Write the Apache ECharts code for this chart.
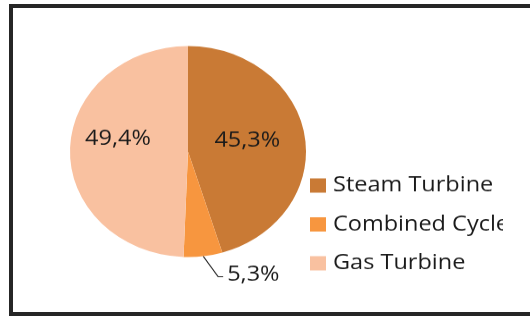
<!DOCTYPE html>
<html>
<head>
<meta charset="utf-8">
<script src="https://cdn.jsdelivr.net/npm/echarts@6/dist/echarts.min.js"></script>
<style>
  html, body { margin: 0; padding: 0; background: #fff; overflow: hidden; }
  #wrap { position: relative; width: 530px; height: 318px; overflow: hidden; }
  #frame {
    position: absolute; left: 9px; top: 4px; width: 600px; height: 304px;
    border-top: 4px solid #262626; border-left: 4px solid #262626; border-bottom: 4px solid #262626;
  }
  /* the source picture is stretched sideways, so the pie is drawn round and squeezed;
     it is also cut off on the right, past the legend's last letter */
  #main {
    position: absolute; left: 0; top: 0; width: 503px; height: 356px;
    transform: scaleY(0.894); transform-origin: 0 0;
  }
</style>
</head>
<body>
<div id="wrap">
  <div id="frame"></div>
  <div id="main"></div>
</div>
<script>
// data
var categories = ['Steam Turbine', 'Combined Cycle', 'Gas Turbine'];
var shares = [45.3, 5.3, 49.4];
var sliceColors = ['#C97A35', '#F7963F', '#F9C1A0'];

var chart = echarts.init(document.getElementById('main'), null, { renderer: 'canvas' });

var textColor = '#1a1a1a';
var fontFamily = '"Open Sans", "Noto Sans", sans-serif';

var pieData = categories.map(function (name, i) {
  var item = {
    name: name,
    value: shares[i],
    itemStyle: { color: sliceColors[i] }
  };
  if (i === 1) {
    item.label = { position: 'outside' };
    item.labelLine = { show: true, length: 20, length2: 6, lineStyle: { color: '#222', width: 1.2 } };
  } else {
    item.label = { position: 'inside' };
    item.labelLine = { show: false };
  }
  return item;
});

var option = {
  animation: false,
  backgroundColor: 'transparent',
  legend: {
    orient: 'vertical',
    left: 310,
    top: 193.5,
    padding: 0,
    itemWidth: 16,
    itemHeight: 16,
    itemGap: 15.5,
    icon: 'rect',
    data: categories,
    textStyle: {
      color: textColor,
      fontFamily: fontFamily,
      fontSize: 23.5,
      lineHeight: 28,
      padding: [0, 0, 0, 2]
    }
  },
  series: [
    {
      type: 'pie',
      center: [188, 169.5],
      radius: [0, 118],
      startAngle: 90,
      clockwise: true,
      data: pieData,
      label: {
        show: true,
        color: textColor,
        fontFamily: fontFamily,
        fontSize: 23.5,
        formatter: function (p) {
          return p.value.toFixed(1).replace('.', ',') + '%';
        }
      },
      labelLayout: function (p) {
        if (p.dataIndex === 0) return { dx: -2, dy: -3.5 };
        if (p.dataIndex === 2) return { dx: -8, dy: -13 };
        // small slice: slanted leader from the slice edge, then a short flat tail
        var s = p.labelLinePoints[0];
        var bend = [s[0] + 15, s[1] + 23];
        var end = [bend[0] + 5, bend[1]];
        return {
          x: end[0] + 4,
          y: end[1] - 2,
          align: 'left',
          verticalAlign: 'middle',
          labelLinePoints: [s, bend, end]
        };
      },
      emphasis: { disabled: true }
    }
  ]
};

chart.setOption(option);
</script>
</body>
</html>
